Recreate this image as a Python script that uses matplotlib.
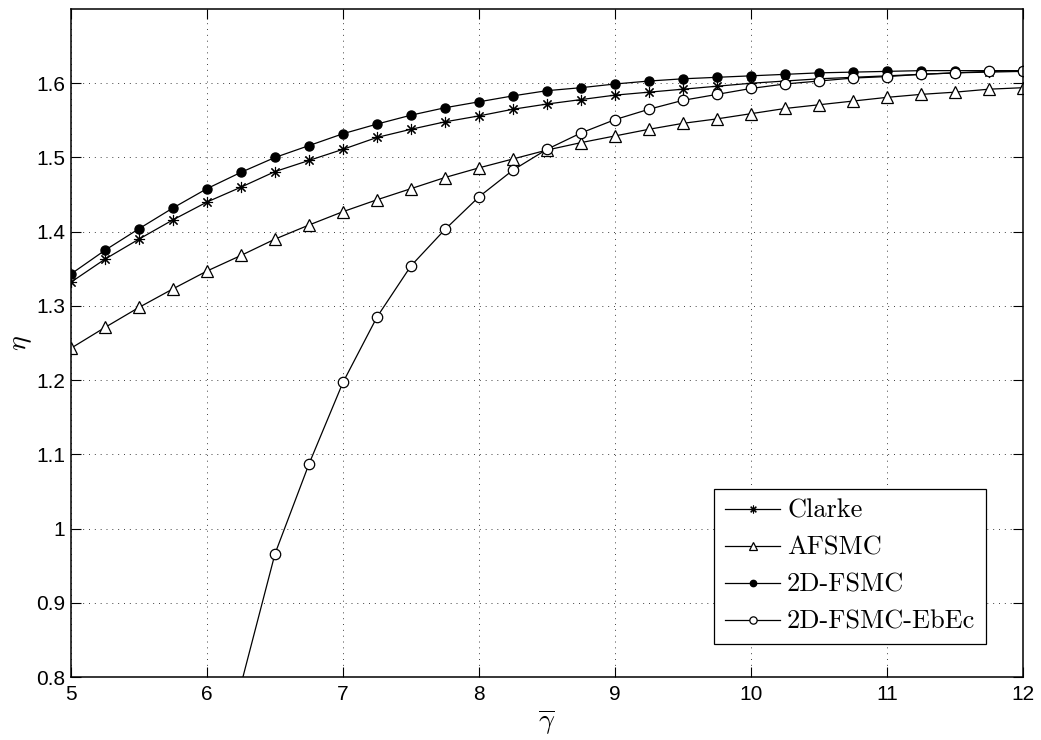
import numpy as np
import matplotlib
matplotlib.use("Agg")
import matplotlib.pyplot as plt
from matplotlib.ticker import FuncFormatter

plt.rcParams['font.family'] = ['Liberation Sans', 'DejaVu Sans']
plt.rcParams['mathtext.fontset'] = 'cm'

# average SNR values
gamma = [5.0, 5.25, 5.5, 5.75, 6.0, 6.25, 6.5, 6.75, 7.0, 7.25, 7.5, 7.75, 8.0, 8.25,
         8.5, 8.75, 9.0, 9.25, 9.5, 9.75, 10.0, 10.25, 10.5, 10.75, 11.0, 11.25,
         11.5, 11.75, 12.0]

clarke = [1.332, 1.363, 1.390, 1.416, 1.440, 1.460, 1.481, 1.496, 1.511, 1.527,
          1.538, 1.548, 1.556, 1.565, 1.572, 1.578, 1.584, 1.588, 1.592, 1.596,
          1.600, 1.603, 1.606, 1.608, 1.610, 1.612, 1.614, 1.615, 1.616]
afsmc = [1.243, 1.271, 1.298, 1.323, 1.347, 1.368, 1.390, 1.409, 1.427, 1.443,
         1.458, 1.473, 1.486, 1.498, 1.510, 1.520, 1.529, 1.538, 1.546, 1.552,
         1.559, 1.566, 1.571, 1.576, 1.581, 1.585, 1.588, 1.592, 1.594]
fsmc2d = [1.343, 1.375, 1.404, 1.432, 1.458, 1.480, 1.500, 1.516, 1.532, 1.545,
          1.557, 1.567, 1.575, 1.583, 1.590, 1.594, 1.599, 1.603, 1.606, 1.608,
          1.610, 1.612, 1.614, 1.615, 1.616, 1.617, 1.617, 1.617, 1.617]
# EbEc curve starts below the visible range
gamma_ebec = gamma[5:]
ebec = [0.790, 0.966, 1.087, 1.197, 1.285, 1.354, 1.403, 1.447, 1.483, 1.511,
        1.533, 1.551, 1.565, 1.577, 1.585, 1.593, 1.599, 1.603, 1.607, 1.609,
        1.612, 1.614, 1.616, 1.617]

fig = plt.figure(figsize=(10.41, 7.40), dpi=100)
ax = fig.add_axes([0.0682, 0.0851, 0.9145, 0.9027])

lw = 0.9
ax.plot(gamma, clarke, color='k', lw=lw, marker=(8, 2, 0), ms=8, mew=0.8,
        mec='k', label='Clarke')
ax.plot(gamma, afsmc, color='k', lw=lw, marker='^', ms=8, mfc='white',
        mec='k', mew=0.9, label='AFSMC')
ax.plot(gamma, fsmc2d, color='k', lw=lw, marker='o', ms=6.5, mfc='k',
        mec='k', label='2D-FSMC')
ax.plot(gamma_ebec, ebec, color='k', lw=lw, marker='o', ms=7.5, mfc='white',
        mec='k', mew=0.9, label='2D-FSMC-EbEc')

ax.set_xlim(5, 12)
ax.set_ylim(0.8, 1.7)
ax.set_xticks(np.arange(5, 13, 1))
ax.set_yticks(np.arange(0.8, 1.61, 0.1))
ax.yaxis.set_major_formatter(FuncFormatter(lambda v, p: '%g' % round(v, 2)))

ax.grid(True, color='0.25', linestyle=(0, (1, 5)), lw=0.7)
ax.tick_params(direction='in', length=7, width=0.8, top=True, right=True,
               labelsize=15)
ax.tick_params(axis='y', pad=4)
ax.tick_params(axis='x', pad=6)
for s in ax.spines.values():
    s.set_linewidth(1.1)

ax.set_xlabel(r'$\overline{\gamma}$', fontsize=20, labelpad=2)
ax.set_ylabel(r'$\eta$', fontsize=20, labelpad=2)

leg = ax.legend(loc='lower right', bbox_to_anchor=(0.961, 0.049),
                prop={'family': 'cmr10', 'size': 19}, fancybox=False,
                edgecolor='k', framealpha=1, handlelength=2.1,
                borderpad=0.4, labelspacing=0.5, handletextpad=0.25,
                borderaxespad=0, markerscale=0.7)
leg.get_frame().set_linewidth(0.9)

fig.savefig('out.png', dpi=100)
